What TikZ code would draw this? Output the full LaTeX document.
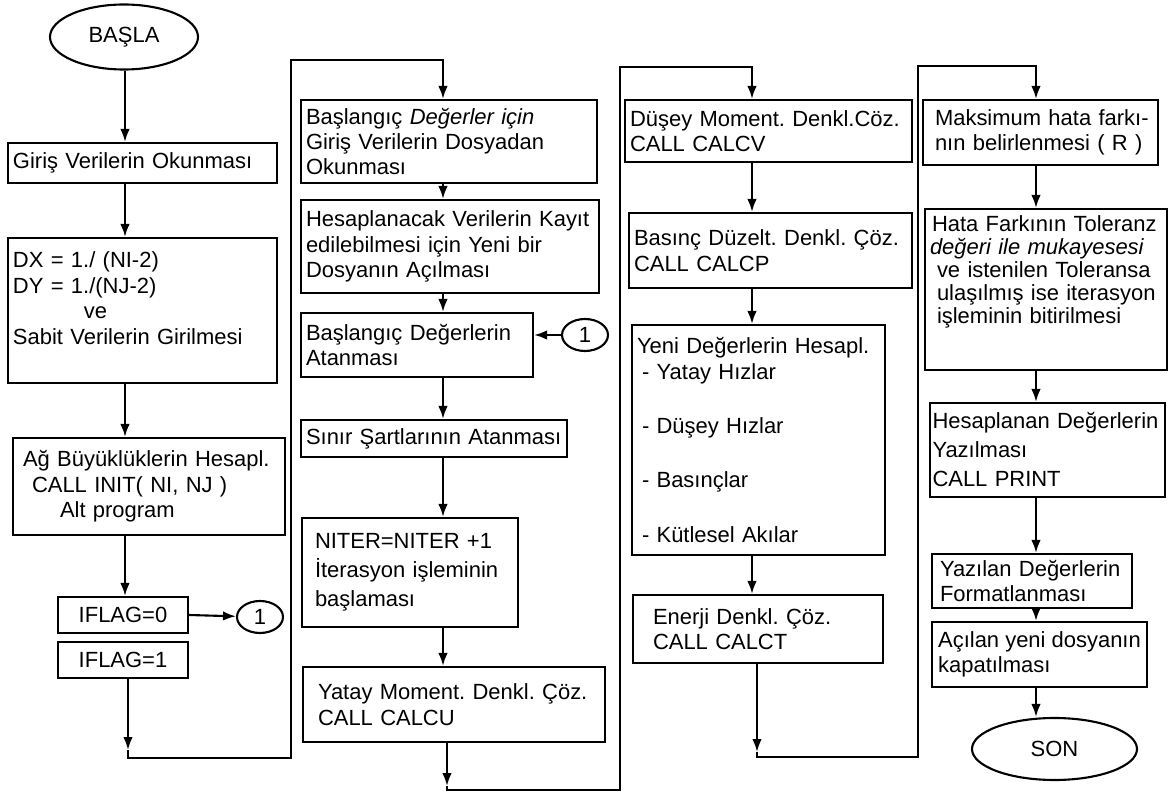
\documentclass[tikz,border=0pt]{standalone}
\usepackage{fontspec}
\setmainfont{Liberation Sans}
\usetikzlibrary{shapes.geometric, arrows.meta, calc}

\begin{document}
\frenchspacing
\begin{tikzpicture}[
    box/.style={draw, line width=1.2pt, inner xsep=0.1cm, inner ysep=0pt, align=left, font=\fontsize{12.5}{14.5}\selectfont},
    term/.style={draw, ellipse, line width=1.2pt, inner sep=0pt, font=\fontsize{12.5}{14.5}\selectfont},
    conn/.style={draw, ellipse, line width=1.2pt, inner sep=0pt, minimum width=0.92cm, minimum height=0.64cm, font=\fontsize{12.5}{14.5}\selectfont},
    arr/.style={line width=1.2pt, -{Latex[length=2.6mm,width=1.9mm]}},
    wire/.style={line width=1.2pt}
]
\useasboundingbox (0,0) rectangle (23.4,-16);

% Arrow columns
\coordinate (x1) at (2.50,0);
\coordinate (x2) at (8.86,0);
\coordinate (x3) at (15.04,0);
\coordinate (x4) at (20.72,0);

% Column 1
\node[term, minimum width=2.96cm, minimum height=1.3cm] (basla) at (2.48,-0.74) {BAŞLA};
\node[box, text width=5.18cm, minimum height=0.8cm] (giris) at (2.85,-3.26) {Giriş Verilerin Okunması};
\node[box, text width=5.18cm, minimum height=2.9cm] (dx) at (2.85,-6.21) {DX = 1./ (NI-2)\\DY = 1./(NJ-2)\\\hspace*{1.42cm}ve\\Sabit Verilerin Girilmesi\rule[-0.5cm]{0pt}{0.5cm}};
\node[box, text width=5.24cm, minimum height=1.94cm] (ag) at (2.98,-9.73) {\hspace*{0.1cm}Ağ Büyüklüklerin Hesapl.\\\hspace*{0.28cm}CALL INIT( NI, NJ )\\\hspace*{0.84cm}Alt program};
\node[box, align=center, text width=2.40cm, minimum height=0.72cm] (iflag0) at (2.46,-12.30) {IFLAG=0};
\node[box, align=center, text width=2.40cm, minimum height=0.72cm] (iflag1) at (2.46,-13.20) {IFLAG=1};
\node[conn] (bir1) at (5.20,-12.34) {1};

% Column 2
\node[box, text width=5.72cm, minimum height=1.66cm] (bd) at (8.98,-2.83) {Başlangıç \textit{Değerler için}\\Giriş Verilerin Dosyadan\\Okunması};
\node[box, text width=5.76cm, minimum height=1.86cm] (hk) at (9.00,-4.93) {Hesaplanacak Verilerin Kayıt\\edilebilmesi için Yeni bir\\Dosyanın Açılması};
\node[box, text width=4.44cm, minimum height=1.28cm] (ba) at (8.34,-6.90) {Başlangıç Değerlerin\\Atanması};
\node[conn] (bir2) at (11.70,-6.70) {1};
\node[box, text width=5.12cm, minimum height=0.74cm] (sinir) at (8.68,-8.77) {Sınır Şartlarının Atanması};
\node[box, text width=4.12cm, minimum height=2.18cm] (niter) at (8.20,-11.45) {\hspace*{0.16cm}NITER=NITER +1\\[2pt]\hspace*{0.16cm}İterasyon işleminin\\[2pt]\hspace*{0.16cm}başlaması};
\node[box, text width=5.84cm, minimum height=1.50cm] (yatay) at (9.08,-14.09) {\hspace*{0.2cm}Yatay Moment. Denkl. Çöz.\\\hspace*{0.2cm}CALL CALCU};

% Column 3
\node[box, text width=5.54cm, minimum height=1.24cm] (dusey) at (15.37,-2.62) {Düşey Moment. Denkl.Cöz.\\CALL CALCV};
\node[box, text width=5.46cm, minimum height=1.50cm] (basinc) at (15.41,-5.01) {Basınç Düzelt. Denkl. Çöz.\\CALL CALCP};
\node[box, text width=4.86cm, minimum height=4.60cm] (yeni) at (15.17,-8.80) {Yeni Değerlerin Hesapl.\\\hspace*{0.1cm}- Yatay Hızlar\\[0.58cm]\hspace*{0.1cm}- Düşey Hızlar\\[0.58cm]\hspace*{0.1cm}- Basınçlar\\[0.58cm]\hspace*{0.1cm}- Kütlesel Akılar};
\node[box, text width=4.80cm, minimum height=1.36cm] (enerji) at (15.16,-12.58) {\hspace*{0.3cm}Enerji Denkl. Çöz.\\\hspace*{0.3cm}CALL CALCT};

% Column 4
\node[box, text width=4.50cm, minimum height=1.30cm] (maks) at (20.81,-2.65) {\hspace*{0.14cm}Maksimum hata farkı-\\\hspace*{0.14cm}nın belirlenmesi ( R )};
\node[box, text width=4.64cm, minimum height=3.22cm, font=\fontsize{12.5}{13.2}\selectfont] (hata) at (20.92,-5.79) {\hspace*{0.04cm}Hata Farkının Toleranz\\\textit{değeri ile mukayesesi}\\\hspace*{0.14cm}ve istenilen Toleransa\\\hspace*{0.14cm}ulaşılmış ise iterasyon\\\hspace*{0.14cm}işleminin bitirilmesi\rule[-0.8cm]{0pt}{0.8cm}};
\node[box, inner xsep=0.05cm, text width=4.60cm, minimum height=1.88cm] (hes) at (20.95,-9.00) {Hesaplanan Değerlerin\\[2pt]Yazılması\\[2pt]CALL PRINT};
\node[box, text width=3.80cm, minimum height=1.08cm] (yaz) at (20.64,-11.62) {\hspace*{0.06cm}Yazılan Değerlerin\\\hspace*{0.06cm}Formatlanması};
\node[box, minimum width=4.30cm, minimum height=1.30cm] (acilan) at (20.79,-13.09) {Açılan yeni dosyanın\\kapatılması};
\node[term, minimum width=3.30cm, minimum height=1.24cm] (son) at (21.09,-14.98) {SON};

% Flow in column 1
\draw[arr] (basla.south -| x1) -- (giris.north -| x1);
\draw[arr] (giris.south -| x1) -- (dx.north -| x1);
\draw[arr] (dx.south -| x1) -- (ag.north -| x1);
\draw[arr] (ag.south -| x1) -- (iflag0.north -| x1);
\draw[arr] (iflag0.east) -- (bir1);

% Loop to column 2
\coordinate (tip1) at (2.56,-15.00);
\coordinate (bot1) at (2.56,-15.16);
\coordinate (up1) at (5.82,-1.20);
\draw[arr] (iflag1.south -| tip1) -- (tip1);
\draw[arr] (tip1) -- (bot1) -| (up1) -| (bd.north -| x2);

% Flow in column 2
\draw[arr] (bd.south -| x2) -- (hk.north -| x2);
\draw[arr] (hk.south -| x2) -- (ba.north -| x2);
\draw[arr] (bir2) -- (bir2 -| ba.east);
\draw[arr] (ba.south -| x2) -- (sinir.north -| x2);
\draw[arr] (sinir.south -| x2) -- (niter.north -| x2);
\draw[arr] (niter.south -| x2) -- (yatay.north -| x2);

% Loop to column 3
\coordinate (tip2) at (8.94,-15.72);
\coordinate (bot2) at (8.94,-15.80);
\coordinate (up2) at (12.40,-1.34);
\draw[arr] (yatay.south -| tip2) -- (tip2);
\draw[arr] (tip2) -- (bot2) -| (up2) -| (dusey.north -| x3);

% Flow in column 3
\draw[arr] (dusey.south -| x3) -- (basinc.north -| x3);
\draw[arr] (basinc.south -| x3) -- (yeni.north -| x3);
\draw[arr] (yeni.south -| x3) -- (enerji.north -| x3);

% Loop to column 4
\coordinate (tip3) at (15.14,-15.04);
\coordinate (bot3) at (15.14,-15.14);
\coordinate (up3) at (18.36,-1.32);
\draw[arr] (enerji.south -| tip3) -- (tip3);
\draw[arr] (tip3) -- (bot3) -| (up3) -| (maks.north -| x4);

% Flow in column 4
\draw[arr] (maks.south -| x4) -- (hata.north -| x4);
\draw[arr] (hata.south -| x4) -- (hes.north -| x4);
\draw[arr] (hes.south -| x4) -- (yaz.north -| x4);
\draw[arr] (yaz.south -| x4) -- (acilan.north -| x4);
\draw[arr] (acilan.south -| x4) -- (son.north -| x4);
\end{tikzpicture}
\end{document}
